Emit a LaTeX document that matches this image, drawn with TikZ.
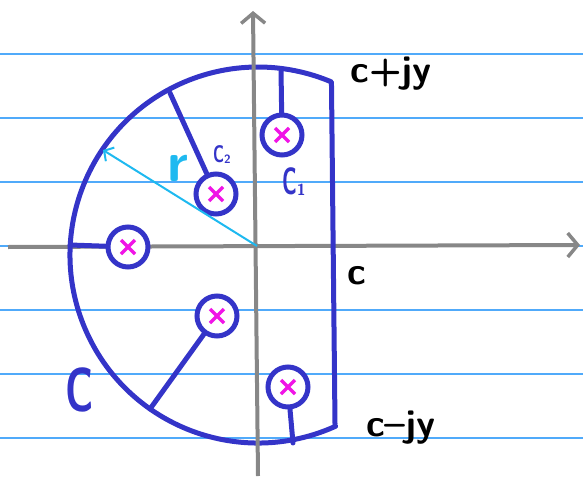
\documentclass[tikz,border=0pt]{standalone}
\usetikzlibrary{arrows.meta}
\definecolor{penblue}{RGB}{52,52,200}
\definecolor{ruled}{RGB}{80,170,250}
\definecolor{axisgray}{RGB}{135,135,135}
\definecolor{radcyan}{RGB}{30,185,240}
\definecolor{polemag}{RGB}{240,20,230}
\begin{document}
\begin{tikzpicture}[x=1pt,y=-1pt,
  ruledline/.style={ruled,line width=1.5pt},
  axisline/.style={axisgray,line width=4pt,-{Straight Barb[length=10pt,width=24pt,line width=3.5pt]}},
  contour/.style={penblue,line width=5pt,line cap=round,line join=round},
  pole/.style={circle,draw=penblue,fill=white,line width=5pt,minimum size=40pt,inner sep=0pt,
    path picture={\draw[polemag,line width=3.5pt]
      ([shift={(-7,-7)}]path picture bounding box.center) -- ([shift={(7,7)}]path picture bounding box.center)
      ([shift={(-7,7)}]path picture bounding box.center) -- ([shift={(7,-7)}]path picture bounding box.center);}},
  radarrow/.style={radcyan,line width=2pt,-{Straight Barb[length=7pt,width=16pt,line width=2pt]}},
  blacklabel/.style={inner sep=0pt,text=black,font=\fontsize{38}{38}\selectfont\sffamily\bfseries},
  bluelabel/.style={inner sep=0pt,text=penblue},
]
\useasboundingbox (0,0) rectangle (583,487);
% ruled notebook lines
\foreach \yy in {54,118,182,246,310,374,438}
  \draw[ruledline] (0,\yy) -- (583,\yy);
% horizontal axis
\coordinate (hx0) at (8,247);
\coordinate (hx1) at (580,245);
\draw[axisline] (hx0) -- (hx1);
% poles
\node[pole] (p1) at (282,135) {};
\node[pole] (p2) at (216,194) {};
\node[pole] (p3) at (128,247) {};
\node[pole] (p4) at (217,316) {};
\node[pole] (p5) at (288,387) {};
% contour
\coordinate (O2) at (258,255);
\coordinate (rb) at (335,424);
\draw[contour] ([shift={(65.6:188)}]O2) arc[start angle=65.6, end angle=293, radius=188] -- (rb);
% branch cuts
\coordinate (b1) at (281,70);
\coordinate (b2) at (170,93);
\coordinate (b3) at (70,245);
\coordinate (b4) at (150,409);
\coordinate (b5) at (293,443);
\draw[contour] (b1) -- (p1);
\draw[contour] (b2) -- (p2);
\draw[contour] (b3) -- (p3);
\draw[contour] (b4) -- (p4);
\draw[contour] (b5) -- (p5);
% vertical axis
\coordinate (vy0) at (258,476);
\coordinate (vy1) at (253,11);
\draw[axisline] (vy0) -- (vy1);
% radius
\coordinate (O) at (257,246);
\coordinate (rtip) at (103,150);
\draw[radarrow] (O) -- (rtip);
% labels
\node[inner sep=0pt,text=radcyan,font=\fontsize{56}{56}\selectfont\sffamily\bfseries] (lr) at (178,168) {r};
\node[bluelabel,font=\fontsize{24}{24}\selectfont\sffamily\bfseries] (lc2) at (222,155) {\scalebox{0.65}[1]{C}\raisebox{-1pt}{\fontsize{12}{12}\selectfont 2}};
\node[bluelabel,font=\fontsize{38}{38}\selectfont\sffamily\bfseries] (lc1) at (294,182) {\scalebox{0.55}[1]{C}\raisebox{-1pt}{\fontsize{16}{16}\selectfont 1}};
\node[bluelabel,font=\fontsize{62}{62}\selectfont\sffamily\bfseries] (lC) at (80,390) {\scalebox{0.65}[1]{C}};
\node[blacklabel] (lcp) at (391,74) {c+jy};
\node[blacklabel] (lc) at (357,276) {c};
\node[blacklabel] (lcm) at (401,428) {c--jy};
\end{tikzpicture}
\end{document}
